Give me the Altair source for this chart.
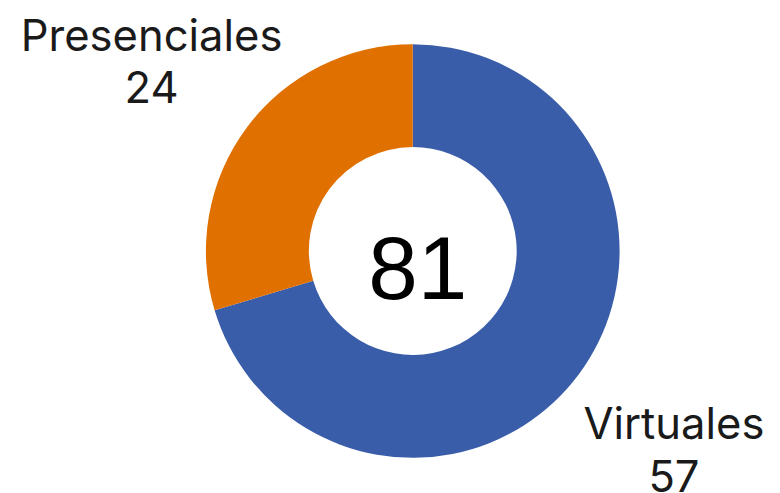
import altair as alt
import pandas as pd

categorias = ["Virtuales", "Presenciales"]
valores = [57, 24]
orden = [1, 2]
colores = ["#3A5DA9", "#E07000"]

df = pd.DataFrame({"categoria": categorias, "valor": valores, "orden": orden})

base = alt.Chart(df).encode(
    theta=alt.Theta("valor:Q", stack=True),
    order=alt.Order("orden:Q"),
)

arcs = base.mark_arc(outerRadius=209, innerRadius=105).encode(
    color=alt.Color("categoria:N",
                    scale=alt.Scale(domain=categorias, range=colores),
                    legend=None)
)

labels = base.transform_calculate(
    etiqueta="datum.categoria + '\\n' + datum.valor"
).mark_text(
    radius=329, font="Inter", fontSize=44, lineBreak="\n",
    lineHeight=53, color="#1a1a1a", align="center", baseline="middle", dy=-19
).encode(text="etiqueta:N")

total = alt.Chart(df).transform_aggregate(
    total="sum(valor)"
).mark_text(
    font="Liberation Sans", fontSize=90, color="#000000",
    baseline="alphabetic", align="center", dy=49, dx=5
).encode(text="total:Q")

chart = alt.layer(arcs, labels, total).properties(
    width=600, height=476,
    padding={"left": 109, "top": 5, "right": 63, "bottom": 4},
    autosize=alt.AutoSizeParams(type="none"),
).configure_view(stroke=None)

chart.save("out.html", embed_options={"renderer": "svg", "actions": False})
